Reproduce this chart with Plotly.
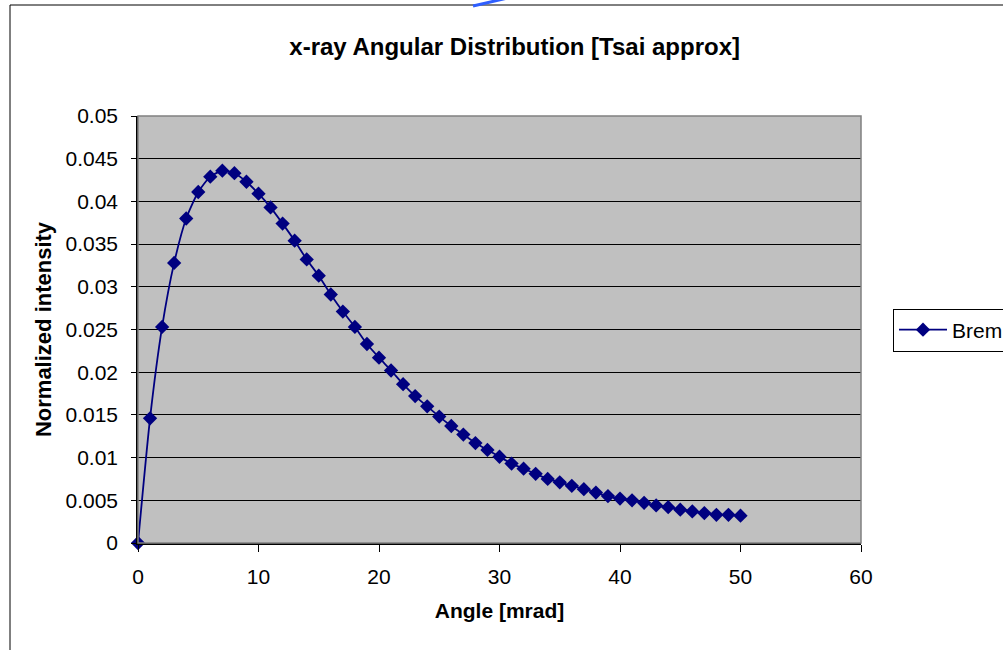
import plotly.graph_objects as go

angle_mrad = list(range(0, 51))
brem = [0.0, 0.0146, 0.0253, 0.0328, 0.0380, 0.0411, 0.0429, 0.0436, 0.0433, 0.0423,
        0.0409, 0.0393, 0.0374, 0.0354, 0.0332, 0.0313, 0.0291, 0.0271, 0.0253, 0.0233,
        0.0217, 0.0202, 0.0186, 0.0172, 0.0160, 0.0148, 0.0137, 0.0127, 0.0117, 0.0109,
        0.0101, 0.0093, 0.0087, 0.0081, 0.0075, 0.0071, 0.0067, 0.0063, 0.0059, 0.0055,
        0.0052, 0.0050, 0.0047, 0.0044, 0.0042, 0.0039, 0.0037, 0.0035, 0.0033, 0.0033,
        0.0032]

title_text = "x-ray Angular Distribution [Tsai approx]"
x_title = "Angle [mrad]"
y_title = "Normalized intensity"
series_name = "Brem"

FONT = "Arial, 'Liberation Sans', sans-serif"
W, H = 1003, 650
L, R, T, B = 138, 861, 116, 543
pw, ph = R - L, B - T

def px(x):
    return (x - L) / pw

def py(y):
    return (B - y) / ph

fig = go.Figure()
fig.add_trace(go.Scatter(
    x=angle_mrad, y=brem, name=series_name, mode="lines+markers",
    line=dict(color="#000080", width=1.8, shape="spline", smoothing=0.6),
    marker=dict(symbol="diamond", size=11, color="#000080"),
    cliponaxis=False,
))

shapes = [
    # outer chart frame
    dict(type="rect", xref="paper", yref="paper", x0=px(10), x1=px(1010),
         y0=py(660), y1=py(5), line=dict(color="#000000", width=1), layer="below"),
    # plot area border (top / right)
    dict(type="rect", xref="paper", yref="paper", x0=0, x1=1, y0=0, y1=1,
         line=dict(color="#808080", width=1.5), layer="above"),
    # blue stroke at the top edge
    dict(type="line", xref="paper", yref="paper", x0=px(473), y0=py(6),
         x1=px(512), y1=py(-3), line=dict(color="#2f5fff", width=3)),
]

fig.update_layout(
    width=W, height=H,
    margin=dict(l=L, r=W - R, t=T, b=H - B, autoexpand=False),
    paper_bgcolor="white", plot_bgcolor="#C0C0C0",
    font=dict(family=FONT, size=21, color="black"),
    title=dict(text="<b>" + title_text + "</b>", x=px(509), xanchor="center",
               y=1 - 47 / H, yanchor="middle", font=dict(size=24, family=FONT)),
    showlegend=True,
    legend=dict(x=px(893), xanchor="left", y=py(330), yanchor="middle",
                bordercolor="black", borderwidth=1, bgcolor="white",
                itemwidth=48, font=dict(size=21, family=FONT)),
    shapes=shapes,
)
fig.update_xaxes(
    range=[0, 60], dtick=10, tick0=0, showgrid=False, zeroline=False,
    showline=True, linecolor="black", linewidth=1.5,
    ticks="outside", ticklen=7, tickcolor="black", ticklabelstandoff=7,
    title=dict(text="<b>" + x_title + "</b>", font=dict(size=21), standoff=16),
)
fig.update_yaxes(
    range=[0, 0.05], dtick=0.005, tick0=0, showgrid=True, gridcolor="black",
    gridwidth=1, zeroline=False, showline=True, linecolor="black", linewidth=1.5,
    ticks="outside", ticklen=5, tickcolor="black", ticklabelstandoff=9,
    title=dict(text="<b>" + y_title + "</b>", font=dict(size=22), standoff=8),
)

fig.write_html("out.html")
